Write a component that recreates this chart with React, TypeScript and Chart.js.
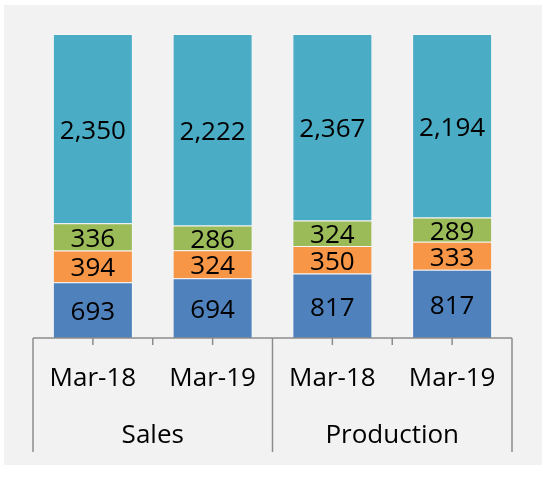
import React, { useEffect, useRef } from "react";
import { Chart, registerables } from "chart.js";

Chart.register(...registerables);

const categories = ["Mar-18", "Mar-19", "Mar-18", "Mar-19"];
const groups = ["Sales", "Production"];
const groupSize = 2;

const seriesBlue = [693, 694, 817, 817];
const seriesOrange = [394, 324, 350, 333];
const seriesGreen = [336, 286, 324, 289];
const seriesCyan = [2350, 2222, 2367, 2194];

const allSeries = [seriesBlue, seriesOrange, seriesGreen, seriesCyan];
const colors = ["#4f81bd", "#f79646", "#9bbb59", "#4bacc6"];
const seriesNames = ["Series 1", "Series 2", "Series 3", "Series 4"];

const FONT = "'Open Sans', 'DejaVu Sans', sans-serif";

export default function App() {
  const ref = useRef<HTMLCanvasElement | null>(null);

  useEffect(() => {
    if (!ref.current) return;
    const totals = categories.map((_, i) => allSeries.reduce((s, a) => s + a[i], 0));

    const bgPlugin = {
      id: "bg",
      beforeDraw(chart: any) {
        const ctx = chart.ctx;
        ctx.save();
        ctx.fillStyle = "#f2f2f2";
        ctx.fillRect(4, 5, 538, 460);
        ctx.restore();
      },
    };

    const labelPlugin = {
      id: "labels",
      afterDatasetsDraw(chart: any) {
        const ctx = chart.ctx;
        ctx.save();
        ctx.font = `26px ${FONT}`;
        ctx.fillStyle = "#000";
        ctx.textAlign = "center";
        ctx.textBaseline = "alphabetic";
        chart.data.datasets.forEach((ds: any, di: number) => {
          const meta = chart.getDatasetMeta(di);
          meta.data.forEach((el: any, i: number) => {
            const raw = allSeries[di][i];
            const cy = (el.y + el.base) / 2;
            ctx.fillText(raw.toLocaleString("en-US"), el.x, cy + 10);
          });
        });
        ctx.restore();
      },
    };

    const axisPlugin = {
      id: "multiAxis",
      afterDraw(chart: any) {
        const ctx = chart.ctx;
        const xs = chart.scales.x;
        const area = chart.chartArea;
        const y0 = area.bottom;
        ctx.save();
        ctx.strokeStyle = "#8c8c8c";
        ctx.lineWidth = 1.5;
        ctx.beginPath();
        ctx.moveTo(area.left, y0);
        ctx.lineTo(area.right, y0);
        ctx.stroke();
        const n = categories.length;
        const half = (xs.getPixelForValue(1) - xs.getPixelForValue(0)) / 2;
        for (let i = 0; i <= n * 2; i++) {
          const x = xs.getPixelForValue(0) - half + i * half;
          const isGroupEdge = i % (groupSize * 2) === 0;
          ctx.beginPath();
          ctx.moveTo(x, y0);
          ctx.lineTo(x, isGroupEdge ? 452 : y0 + 7);
          ctx.stroke();
        }
        ctx.fillStyle = "#000";
        ctx.font = `26px ${FONT}`;
        ctx.textAlign = "center";
        ctx.textBaseline = "alphabetic";
        categories.forEach((c, i) => {
          ctx.fillText(c, xs.getPixelForValue(i), 386);
        });
        groups.forEach((g, gi) => {
          const a = xs.getPixelForValue(gi * groupSize);
          const b = xs.getPixelForValue(gi * groupSize + groupSize - 1);
          ctx.fillText(g, (a + b) / 2, 443);
        });
        ctx.restore();
      },
    };

    const chart = new Chart(ref.current, {
      type: "bar",
      data: {
        labels: categories.map((c, i) => `${c} ${i}`),
        datasets: allSeries.map((s, di) => ({
          label: seriesNames[di],
          data: s.map((v, i) => (v / totals[i]) * 100),
          backgroundColor: colors[di],
          borderColor: "rgba(255,255,255,0.35)",
          borderWidth: 1,
          categoryPercentage: 1,
          barPercentage: 0.668,
        })),
      },
      options: {
        animation: false,
        responsive: false,
        maintainAspectRatio: false,
        layout: { padding: { left: 33, right: 31, top: 34, bottom: 145 } },
        plugins: { legend: { display: false }, tooltip: { enabled: false } },
        scales: {
          x: { stacked: true, display: false },
          y: { stacked: true, display: false, min: 0, max: 100 },
        },
      },
      plugins: [bgPlugin, labelPlugin, axisPlugin],
    });
    return () => chart.destroy();
  }, []);

  return (
    <div style={{ position: "absolute", left: 0, top: 0, width: 543, height: 483 }}>
      <canvas ref={ref} width={543} height={483} style={{ width: 543, height: 483 }} />
    </div>
  );
}
